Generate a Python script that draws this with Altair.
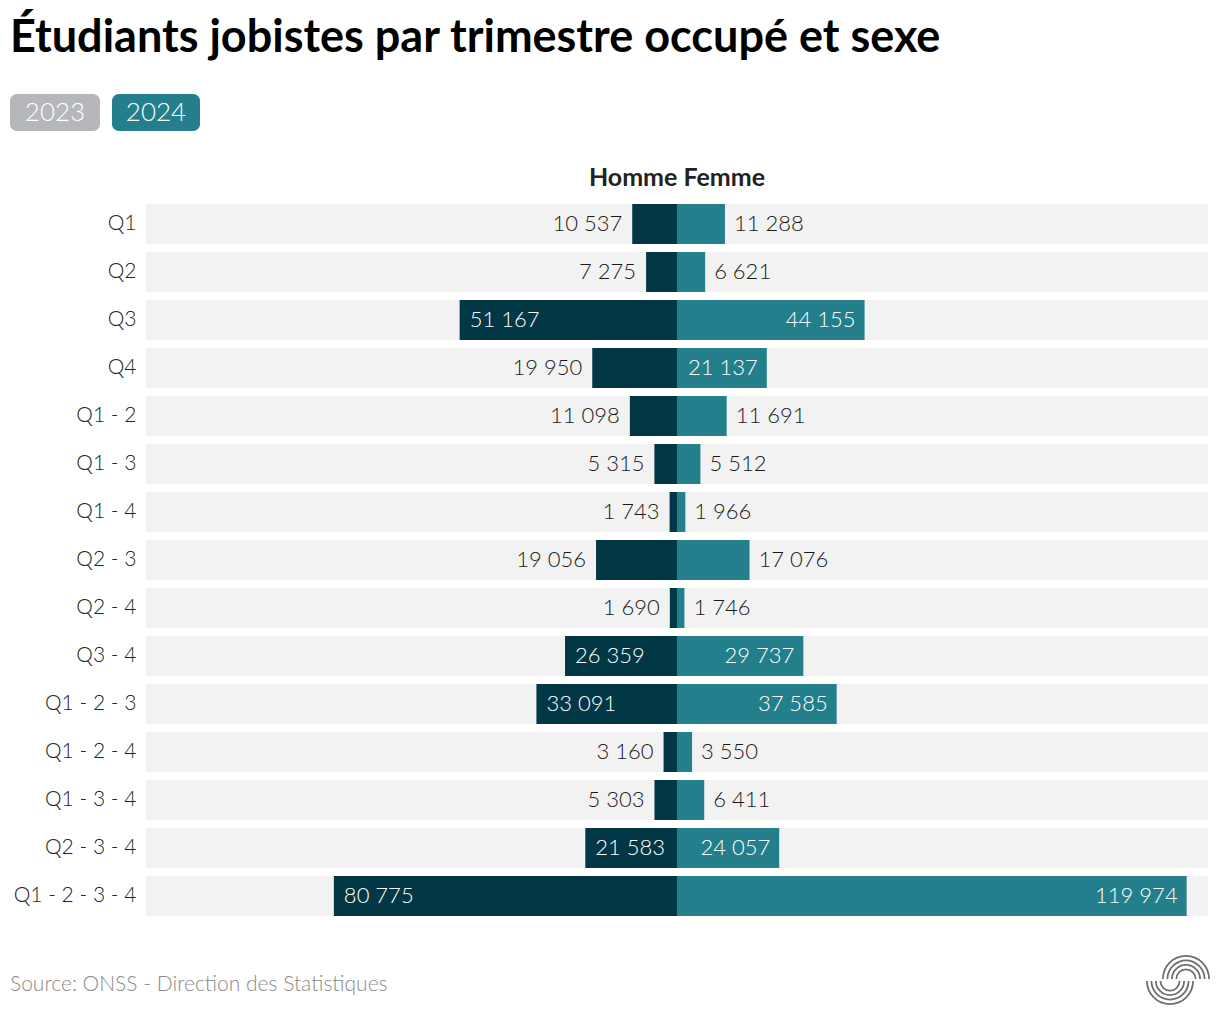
import altair as alt
import pandas as pd
import math

categories = ["Q1", "Q2", "Q3", "Q4", "Q1 - 2", "Q1 - 3", "Q1 - 4", "Q2 - 3", "Q2 - 4",
              "Q3 - 4", "Q1 - 2 - 3", "Q1 - 2 - 4", "Q1 - 3 - 4", "Q2 - 3 - 4", "Q1 - 2 - 3 - 4"]
homme = [10537, 7275, 51167, 19950, 11098, 5315, 1743, 19056, 1690, 26359, 33091, 3160, 5303, 21583, 80775]
femme = [11288, 6621, 44155, 21137, 11691, 5512, 1966, 17076, 1746, 29737, 37585, 3550, 6411, 24057, 119974]

DOMAIN = 125000
THRESH = 20000
FONT = "Lato"
DARK = "#023746"
TEAL = "#237f8b"

rows = []
for c, h, f in zip(categories, homme, femme):
    rows.append({"cat": c, "sexe": "Homme", "value": h, "signed": -h,
                 "label": f"{h:,}".replace(",", " "), "inside": h >= THRESH})
    rows.append({"cat": c, "sexe": "Femme", "value": f, "signed": f,
                 "label": f"{f:,}".replace(",", " "), "inside": f >= THRESH})
df = pd.DataFrame(rows)
bg = pd.DataFrame({"cat": categories, "lo": [-DOMAIN] * len(categories), "hi": [DOMAIN] * len(categories)})

yenc = alt.Y("cat:N", sort=categories,
             scale=alt.Scale(paddingInner=0.1667, paddingOuter=0.0833),
             axis=alt.Axis(title=None, domain=False, ticks=False, labelPadding=10,
                           labelFontSize=21, labelColor="#222222", labelFont=FONT,
                           labelFontWeight=300))
xscale = alt.Scale(domain=[-DOMAIN, DOMAIN], nice=False, zero=False)

background = alt.Chart(bg).mark_bar(color="#f2f2f2").encode(
    x=alt.X("lo:Q", scale=xscale, axis=None), x2="hi:Q", y=yenc)

bars = alt.Chart(df).mark_bar().encode(
    x=alt.X("signed:Q", scale=xscale, axis=None),
    x2=alt.datum(0),
    y=alt.Y("cat:N", sort=categories),
    color=alt.Color("sexe:N", scale=alt.Scale(domain=["Homme", "Femme"], range=[DARK, TEAL]), legend=None),
)

def lab(sexe, inside, align, dx, color):
    return alt.Chart(df).transform_filter(
        (alt.datum.sexe == sexe) & (alt.datum.inside == inside)
    ).mark_text(align=align, baseline="middle", dx=dx, fontSize=22, font=FONT,
                fontWeight=300, color=color).encode(
        x=alt.X("signed:Q", scale=xscale), y=alt.Y("cat:N", sort=categories), text="label:N")

labels = [
    lab("Homme", True, "left", 10, "white"),
    lab("Homme", False, "right", -10, "#1a1a1a"),
    lab("Femme", True, "right", -9, "white"),
    lab("Femme", False, "left", 9, "#1a1a1a"),
]

one = pd.DataFrame({"k": [0]})
title = alt.Chart(one).mark_text(text="Étudiants jobistes par trimestre occupé et sexe",
                                 align="left", baseline="alphabetic", fontSize=45,
                                 fontWeight="bold", font=FONT, color="#000000").encode(
    x=alt.value(-136), y=alt.value(-148))

years = pd.DataFrame({"year": ["2023", "2024"], "fill": ["#b6b7bb", TEAL],
                      "x0": [-136, -34], "x1": [-46, 54]})
btn = alt.Chart(years).mark_rect(cornerRadius=7).encode(
    x=alt.X("x0:Q", scale=None), x2="x1:Q", y=alt.value(-106), y2=alt.value(-69),
    color=alt.Color("fill:N", scale=None))
btn_txt = alt.Chart(years).transform_calculate(xc="(datum.x0 + datum.x1) / 2").mark_text(
    fontSize=26, font=FONT, fontWeight=300, color="white", baseline="middle", align="center").encode(
    x=alt.X("xc:Q", scale=None), y=alt.value(-87), text="year:N")

header = alt.Chart(one).mark_text(text="Homme Femme", fontSize=25, fontWeight="bold", font=FONT,
                                  color="#222222", baseline="middle", align="center").encode(
    x=alt.datum(0), y=alt.value(-22))

source = alt.Chart(one).mark_text(text="Source: ONSS - Direction des Statistiques", align="left",
                                  baseline="middle", fontSize=21, font=FONT, fontWeight=300,
                                  color="#8a8a8a").encode(x=alt.value(-136), y=alt.value(785))

# logo: concentric half rings
ring_r = [24, 19.5, 15, 10.5]
logo_df = pd.DataFrame(
    [{"r": r, "part": "top", "cx": 1040, "cy": 779, "t0": 1.5 * math.pi, "t1": 2.5 * math.pi} for r in ring_r] +
    [{"r": r, "part": "bot", "cx": 1024, "cy": 781, "t0": 0.5 * math.pi, "t1": 1.5 * math.pi} for r in ring_r])
logo_df["ri"] = logo_df["r"] - 1.8
logo = alt.Chart(logo_df).mark_arc(color="#6f6f6f").encode(
    x=alt.X("cx:Q", scale=None), y=alt.Y("cy:Q", scale=None),
    theta=alt.Theta("t0:Q", scale=None), theta2="t1:Q",
    radius=alt.Radius("r:Q", scale=None), radius2="ri:Q")

chart = alt.layer(background, bars, *labels, title, btn, btn_txt, header, source, logo).properties(
    width=1062, height=720,
    autosize=alt.AutoSizeParams(type="none"),
    padding={"left": 138, "top": 192, "right": 4, "bottom": 94},
).configure(background="white").configure_view(strokeWidth=0, stroke=None)

chart.save("out.html", embed_options={"renderer": "svg", "actions": False})
